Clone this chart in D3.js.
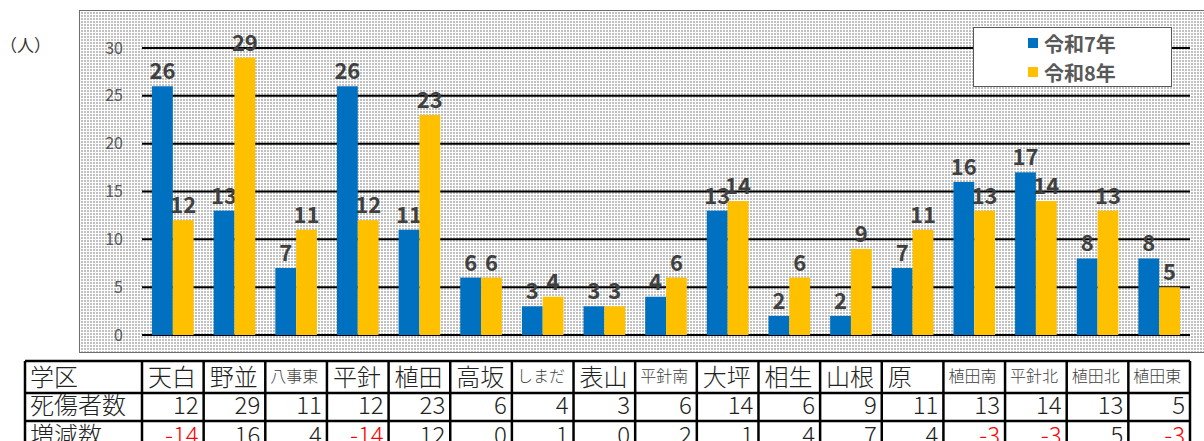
<!DOCTYPE html>
<html><head><meta charset="utf-8">
<script src="https://cdn.jsdelivr.net/npm/d3@7"></script>
<style>
html,body{margin:0;padding:0;background:#fff;}
svg{display:block;font-family:"Noto Sans CJK JP","Noto Sans",sans-serif;}
</style></head>
<body>
<svg id="c" width="1204" height="441"></svg>
<script>
const categories = ["天白","野並","八事東","平針","植田","高坂","しまだ","表山","平針南","大坪","相生","山根","原","植田南","平針北","植田北","植田東"];
const seriesNames = ["令和7年","令和8年"];
const r7 = [26,13,7,26,11,6,3,3,4,13,2,2,7,16,17,8,8];
const r8 = [12,29,11,12,23,6,4,3,6,14,6,9,11,13,14,13,5];
const changes = [-14,16,4,-14,12,0,1,0,2,1,4,7,4,-3,-3,5,-3];
const yTicks = [0,5,10,15,20,25,30];
const rowLabels = ["学区","死傷者数","増減数"];
const unitLabel = "（人）";

const colors = ["#0070C0","#FFC000"];
const svg = d3.select("#c");

// pattern background
const defs = svg.append("defs");
const pat = defs.append("pattern").attr("id","dots").attr("width",3).attr("height",3).attr("patternUnits","userSpaceOnUse");
pat.append("rect").attr("width",3).attr("height",3).attr("fill","#fff");
pat.append("rect").attr("width",2).attr("height",2).attr("fill","#c0c0c0");

svg.append("rect").attr("x",79.5).attr("y",10.5).attr("width",1130).attr("height",342)
  .attr("fill","url(#dots)").attr("stroke","#6e6e6e").attr("stroke-width",1);

const x = d3.scaleBand().domain(categories).range([142,1190]).paddingInner(0.325).paddingOuter(0.1625);
const xs = d3.scaleBand().domain([0,1]).range([0,x.bandwidth()]);
const y = d3.scaleLinear().domain([0,30]).range([335,48]);

// gridlines
svg.append("g").selectAll("line").data(yTicks).join("line")
  .attr("x1",142).attr("x2",1190).attr("y1",d=>y(d)).attr("y2",d=>y(d))
  .attr("stroke","#000").attr("stroke-width",2);

// y axis labels
const yAxis = d3.axisLeft(y).tickValues(yTicks).tickSize(0).tickPadding(0);
const ya = svg.append("g").attr("transform","translate(123,0)").call(yAxis);
ya.select(".domain").remove();
ya.selectAll("text").attr("font-size",16).attr("fill","#595959")
  .attr("font-family","'Noto Sans CJK JP',sans-serif");

svg.append("text").attr("x",0).attr("y",52).attr("font-size",17).attr("fill","#333").text(unitLabel);

// bars
const series = [r7,r8];
series.forEach((vals,si)=>{
  const g = svg.append("g");
  g.selectAll("rect").data(vals).join("rect")
    .attr("x",(d,i)=>x(categories[i])+xs(si))
    .attr("width",xs.bandwidth())
    .attr("y",d=>y(d)).attr("height",d=>y(0)-y(d))
    .attr("fill",colors[si]);
  g.selectAll("text").data(vals).join("text")
    .attr("x",(d,i)=>x(categories[i])+xs(si)+xs.bandwidth()/2)
    .attr("y",d=>y(d)-7)
    .attr("text-anchor","middle").attr("font-size",22).attr("font-weight","bold")
    .attr("fill","#404040").text(d=>d);
});

// legend
const lg = svg.append("g");
lg.append("rect").attr("x",973.5).attr("y",27.5).attr("width",198).attr("height",59)
  .attr("fill","#fff").attr("stroke","#595959").attr("stroke-width",1);
seriesNames.forEach((n,i)=>{
  const cy = 43 + i*29;
  lg.append("rect").attr("x",1028).attr("y",cy-5).attr("width",10).attr("height",10).attr("fill",colors[i]);
  lg.append("text").attr("x",1044).attr("y",cy).attr("dominant-baseline","central")
    .attr("font-size",20).attr("font-weight","bold").attr("fill","#595959").text(n);
});

// table
const tbl = svg.append("g");
const step = x.step();
const colEdge = i => x.range()[0] + step*i;
const rowY = [361,393,421,449];
const tLeft = 25, tRight = colEdge(categories.length);
rowY.forEach(yy=>{
  tbl.append("line").attr("x1",tLeft).attr("x2",tRight).attr("y1",yy).attr("y2",yy)
    .attr("stroke","#000").attr("stroke-width",2.5);
});
const vEdges = [tLeft].concat(d3.range(categories.length+1).map(colEdge));
tbl.selectAll("line.v").data(vEdges).join("line").attr("class","v")
  .attr("x1",d=>d).attr("x2",d=>d).attr("y1",rowY[0]).attr("y2",rowY[3])
  .attr("stroke","#000").attr("stroke-width",2.5);

const rowBase = [386,414,444];
rowLabels.forEach((t,i)=>{
  tbl.append("text").attr("x",tLeft+5).attr("y",rowBase[i]).attr("font-size",24)
    .attr("fill","#222").attr("font-weight",300).text(t);
});
categories.forEach((c,i)=>{
  const small = c.length>=3;
  tbl.append("text").attr("x",colEdge(i)+(small?5:6)).attr("y",small?382:386)
    .attr("font-size",small?16:24).attr("fill",small?"#404040":"#222").attr("font-weight",300).text(c);
  tbl.append("text").attr("x",colEdge(i+1)-5).attr("y",rowBase[1]).attr("text-anchor","end")
    .attr("font-size",24).attr("fill","#222").attr("font-weight",300).text(r8[i]);
  tbl.append("text").attr("x",colEdge(i+1)-5).attr("y",rowBase[2]).attr("text-anchor","end")
    .attr("font-size",24).attr("fill",changes[i]<0?"#ff0000":"#222").attr("font-weight",300).text(changes[i]);
});
</script>
</body></html>
